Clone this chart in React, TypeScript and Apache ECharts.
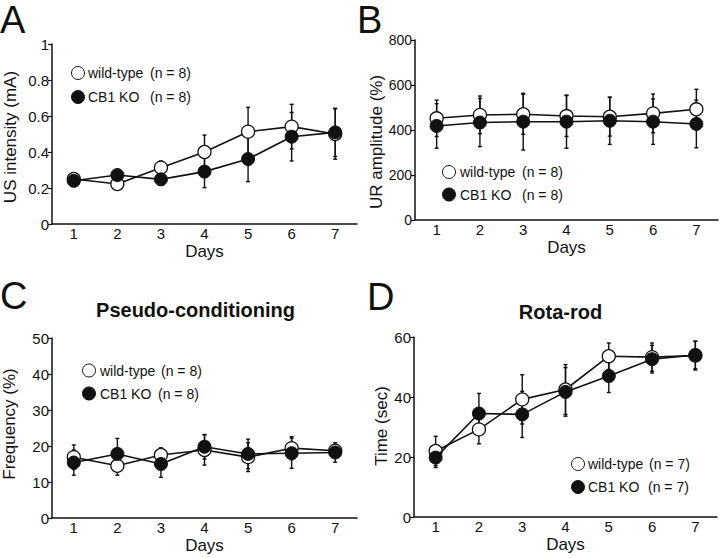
import React, { useEffect, useRef } from "react";
import * as echarts from "echarts";

const days = ["1", "2", "3", "4", "5", "6", "7"];

// Panel A: US intensity (mA)
const usWT = [0.25, 0.222, 0.313, 0.4, 0.513, 0.541, 0.5];
const usWTErr = [0.012, 0.012, 0.037, 0.094, 0.135, 0.124, 0.14];
const usKO = [0.24, 0.272, 0.248, 0.291, 0.361, 0.485, 0.509];
const usKOErr = [0.012, 0.03, 0.015, 0.089, 0.126, 0.135, 0.134];

// Panel B: UR amplitude (%)
const urWT = [452, 467, 470, 462, 459, 474, 492];
const urWTErr = [81, 84, 89, 91, 86, 86, 89];
const urKO = [418, 433, 437, 437, 441, 437, 427];
const urKOErr = [99, 107, 126, 118, 105, 101, 106];

// Panel C: Pseudo-conditioning, Frequency (%)
const pcWT = [16.9, 14.5, 17.5, 18.9, 16.9, 19.4, 18.7];
const pcWTErr = [3.4, 2.6, 2.0, 4.2, 4.0, 3.2, 1.7];
const pcKO = [15.4, 17.8, 15.0, 19.8, 17.8, 18.0, 18.2];
const pcKOErr = [3.5, 4.3, 3.7, 3.4, 4.1, 4.2, 2.7];

// Panel D: Rota-rod, Time (sec)
const rrWT = [22.0, 29.2, 39.2, 42.5, 53.6, 53.3, 53.8];
const rrWTErr = [4.9, 4.8, 8.2, 8.3, 4.4, 4.7, 4.8];
const rrKO = [19.8, 34.5, 34.2, 41.7, 47.0, 52.6, 54.0];
const rrKOErr = [3.3, 6.7, 7.7, 8.1, 5.5, 4.6, 4.6];

const panelLetters = ["A", "B", "C", "D"];
const panelTitles = ["", "", "Pseudo-conditioning", "Rota-rod"];
const yNames = ["US intensity (mA)", "UR amplitude (%)", "Frequency (%)", "Time (sec)"];
const yMax = [1, 800, 50, 60];
const yInterval = [0.2, 200, 10, 20];
const wtLabel = "wild-type";
const koLabel = "CB1 KO";
const nLabels = ["(n = 8)", "(n = 8)", "(n = 8)", "(n = 7)"];

const FONT = "'Liberation Sans', Arial, Helvetica, sans-serif";
const INK = "#111";

const grids = [
  { left: 52, top: 44, width: 305, height: 180 },
  { left: 415, top: 40, width: 303, height: 180 },
  { left: 52, top: 338, width: 305, height: 180 },
  { left: 414, top: 337, width: 303, height: 180 },
];
const yNameGap = [33, 29, 34, 22];
const yNamePad = [
  [0, 6, 0, 0],
  [0, 24, 0, 0],
  [0, 0, 0, 8],
  [0, 0, 0, 2],
];

const legendPos = [
  { cx: 78, cy1: 73, cy2: 97, tx: 88, nx1: 150, nx2: 150 },
  { cx: 449, cy1: 172, cy2: 194.5, tx: 460, nx1: 522, nx2: 522 },
  { cx: 89, cy1: 370.5, cy2: 393.5, tx: 100, nx1: 161, nx2: 158 },
  { cx: 578, cy1: 464, cy2: 487, tx: 588, nx1: 649, nx2: 648 },
];
const letterPos = [
  { x: 0, y: 19.5 },
  { x: 357, y: 19.5 },
  { x: 0, y: 296 },
  { x: 367, y: 297 },
];
const titlePos = [null, null, { x: 195.5, y: 310 }, { x: 560.5, y: 312 }];

function errSeries(idx: number, vals: number[], errs: number[], z: number) {
  return {
    type: "custom",
    xAxisIndex: idx,
    yAxisIndex: idx,
    z,
    silent: true,
    data: vals.map((v, i) => [i, v, errs[i]]),
    encode: { x: 0, y: 1 },
    renderItem: (params: any, api: any) => {
      const x = api.value(0);
      const v = api.value(1);
      const e = api.value(2);
      const top = api.coord([x, v + e]);
      const bot = api.coord([x, v - e]);
      const hw = 2;
      const st = { stroke: INK, lineWidth: 1.4 };
      return {
        type: "group",
        children: [
          { type: "line", shape: { x1: top[0], y1: top[1], x2: bot[0], y2: bot[1] }, style: st },
          { type: "line", shape: { x1: top[0] - hw, y1: top[1], x2: top[0] + hw, y2: top[1] }, style: st },
          { type: "line", shape: { x1: bot[0] - hw, y1: bot[1], x2: bot[0] + hw, y2: bot[1] }, style: st },
        ],
      };
    },
  };
}

function lineSeries(idx: number, name: string, vals: number[], filled: boolean, z: number) {
  return {
    type: "line",
    name,
    xAxisIndex: idx,
    yAxisIndex: idx,
    z,
    data: vals,
    symbol: "circle",
    symbolSize: 13,
    showSymbol: true,
    lineStyle: { color: INK, width: 1.6 },
    itemStyle: filled
      ? { color: INK, borderColor: INK, borderWidth: 1 }
      : { color: "#fff", borderColor: INK, borderWidth: 1.3 },
    emphasis: { disabled: true },
  };
}

export default function App() {
  const ref = useRef<HTMLDivElement>(null);
  useEffect(() => {
    if (!ref.current) return;
    const chart = echarts.init(ref.current, null, { renderer: "svg" });
    const wtSets = [
      [usWT, usWTErr],
      [urWT, urWTErr],
      [pcWT, pcWTErr],
      [rrWT, rrWTErr],
    ];
    const koSets = [
      [usKO, usKOErr],
      [urKO, urKOErr],
      [pcKO, pcKOErr],
      [rrKO, rrKOErr],
    ];
    const series: any[] = [];
    for (let i = 0; i < 4; i++) {
      series.push(errSeries(i, wtSets[i][0], wtSets[i][1], 1));
      series.push(errSeries(i, koSets[i][0], koSets[i][1], 1));
      series.push(lineSeries(i, wtLabel, wtSets[i][0], false, 2));
      series.push(lineSeries(i, koLabel, koSets[i][0], true, 3));
    }

    const graphic: any[] = [];
    for (let i = 0; i < 4; i++) {
      graphic.push({
        type: "text",
        x: letterPos[i].x,
        y: letterPos[i].y,
        style: {
          text: panelLetters[i],
          fontSize: 38,
          fontFamily: FONT,
          fontWeight: "normal",
          fill: INK,
          textAlign: "left",
          textVerticalAlign: "middle",
        },
      });
      const tp = titlePos[i];
      if (tp) {
        graphic.push({
          type: "text",
          x: tp.x,
          y: tp.y,
          style: {
            text: panelTitles[i],
            fontSize: 20,
            fontWeight: "bold",
            fontFamily: FONT,
            fill: INK,
            textAlign: "center",
            textVerticalAlign: "middle",
          },
        });
      }
      const lp = legendPos[i];
      graphic.push({
        type: "circle",
        shape: { cx: lp.cx, cy: lp.cy1, r: 6.5 },
        style: { fill: "#fff", stroke: INK, lineWidth: 1 },
      });
      graphic.push({
        type: "circle",
        shape: { cx: lp.cx, cy: lp.cy2, r: 6.5 },
        style: { fill: INK, stroke: INK, lineWidth: 1 },
      });
      const ts = (t: string, x: number, y: number) => ({
        type: "text",
        x,
        y,
        style: {
          text: t,
          fontSize: 14,
          fontWeight: "normal",
          fontFamily: FONT,
          fill: INK,
          textAlign: "left",
          textVerticalAlign: "middle",
        },
      });
      graphic.push(ts(wtLabel, lp.tx, lp.cy1));
      graphic.push(ts(nLabels[i], lp.nx1, lp.cy1));
      graphic.push(ts(koLabel, lp.tx, lp.cy2));
      graphic.push(ts(nLabels[i], lp.nx2, lp.cy2));
    }

    chart.setOption({
      animation: false,
      textStyle: { fontFamily: FONT, color: INK },
      grid: grids,
      xAxis: grids.map((_, i) => ({
        type: "category",
        gridIndex: i,
        data: days,
        boundaryGap: true,
        name: "Days",
        nameLocation: "middle",
        nameGap: 19,
        nameTextStyle: { fontSize: 17, color: INK, fontFamily: FONT, verticalAlign: "top" },
        axisLine: { lineStyle: { color: INK, width: 1.5 } },
        axisTick: { alignWithLabel: true, length: 5, lineStyle: { color: INK, width: 1.2 } },
        axisLabel: { fontSize: 15, color: INK, margin: 2, fontFamily: FONT },
        splitLine: { show: false },
      })),
      yAxis: grids.map((_, i) => ({
        type: "value",
        gridIndex: i,
        min: 0,
        max: yMax[i],
        interval: yInterval[i],
        name: yNames[i],
        nameLocation: "middle",
        nameGap: yNameGap[i],
        nameTextStyle: { fontSize: 17, color: INK, fontFamily: FONT, padding: yNamePad[i] },
        axisLine: { show: true, lineStyle: { color: INK, width: 1.5 } },
        axisTick: { show: true, length: 4, lineStyle: { color: INK, width: 1.2 } },
        axisLabel: { fontSize: i === 1 ? 14 : 15, color: INK, margin: 3, fontFamily: FONT },
        splitLine: { show: false },
      })),
      series,
      graphic,
    });
    return () => chart.dispose();
  }, []);
  return (
    <div
      ref={ref}
      style={{ position: "absolute", left: 0, top: 0, width: 720, height: 558, background: "#fff" }}
    />
  );
}
